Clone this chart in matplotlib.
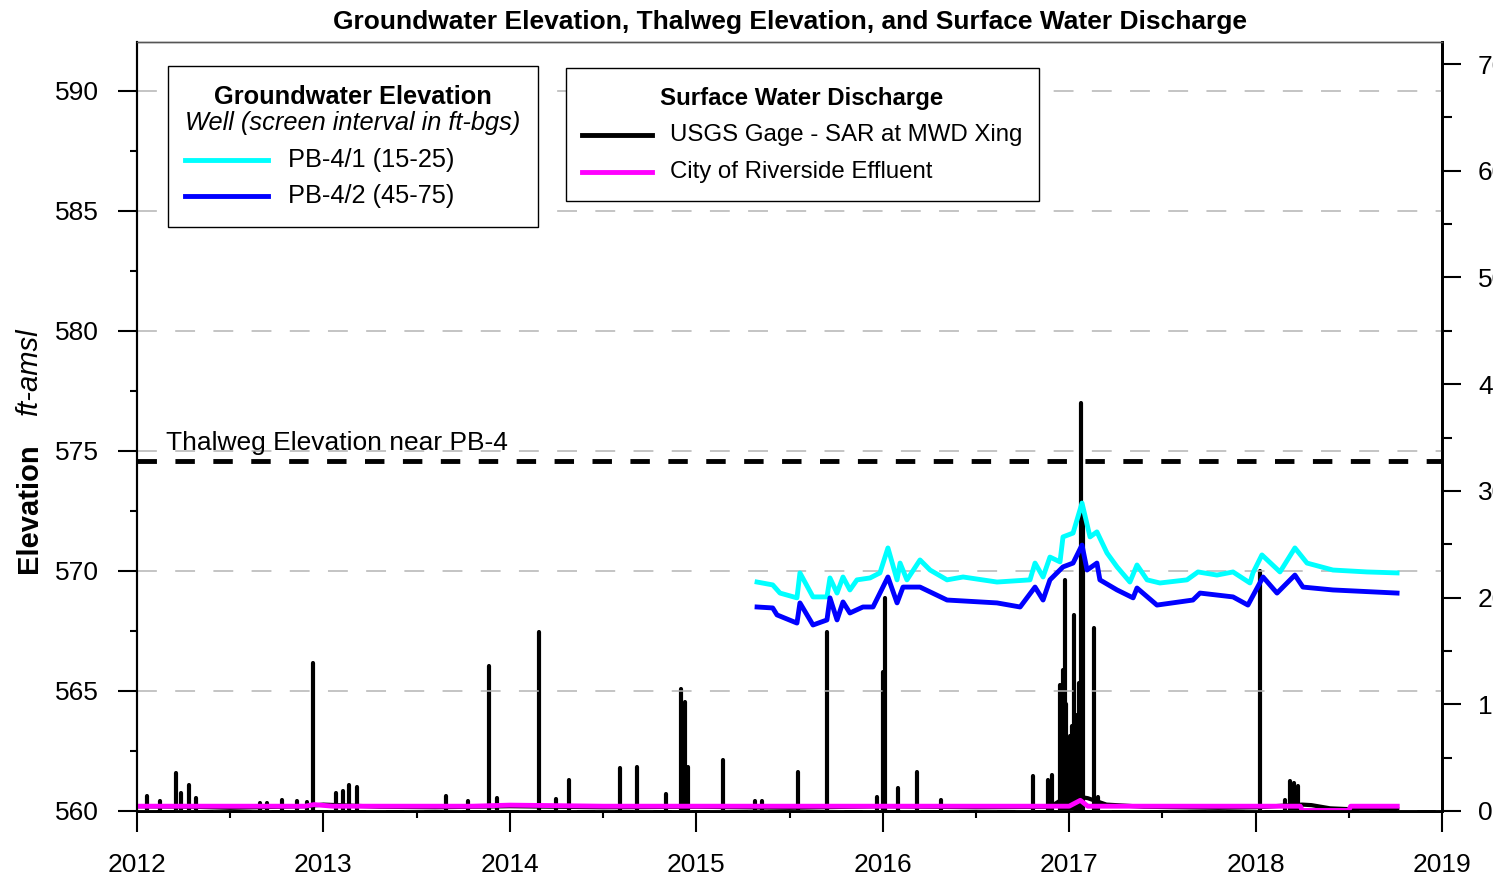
import numpy as np
import matplotlib.pyplot as plt
from matplotlib.patches import Rectangle
from matplotlib.lines import Line2D
from matplotlib.ticker import MultipleLocator, FuncFormatter

plt.rcParams['font.family'] = ['Liberation Sans', 'DejaVu Sans']

# groundwater elevation, ft-amsl (decimal year)
pb41_dates = [2015.326, 2015.41, 2015.449, 2015.54, 2015.556, 2015.626, 2015.701, 2015.717,
              2015.755, 2015.787, 2015.824, 2015.862, 2015.932, 2015.985, 2016.028, 2016.077,
              2016.093, 2016.13, 2016.20, 2016.254, 2016.345, 2016.431, 2016.613, 2016.79,
              2016.817, 2016.86, 2016.897, 2016.951, 2016.967, 2017.021, 2017.069, 2017.112,
              2017.149, 2017.203, 2017.257, 2017.326, 2017.364, 2017.418, 2017.487, 2017.632,
              2017.691, 2017.793, 2017.879, 2017.97, 2017.986, 2018.034, 2018.131, 2018.211,
              2018.276, 2018.415, 2018.598, 2018.759]
pb41_elev = [569.54, 569.42, 569.08, 568.88, 569.92, 568.92, 568.92, 569.71,
             569.08, 569.75, 569.21, 569.63, 569.71, 569.92, 570.96, 569.63,
             570.33, 569.63, 570.46, 570.04, 569.63, 569.75, 569.54, 569.63,
             570.33, 569.75, 570.58, 570.38, 571.42, 571.58, 572.83, 571.42,
             571.63, 570.75, 570.17, 569.54, 570.25, 569.63, 569.50, 569.63,
             569.96, 569.83, 569.96, 569.50, 569.92, 570.67, 569.96, 570.96,
             570.33, 570.04, 569.96, 569.92]

pb42_dates = [2015.326, 2015.41, 2015.433, 2015.54, 2015.556, 2015.626, 2015.701, 2015.717,
              2015.755, 2015.787, 2015.824, 2015.894, 2015.948, 2016.028, 2016.077, 2016.109,
              2016.20, 2016.345, 2016.613, 2016.737, 2016.817, 2016.86, 2016.897, 2016.967,
              2017.021, 2017.069, 2017.096, 2017.149, 2017.165, 2017.257, 2017.343, 2017.364,
              2017.471, 2017.664, 2017.702, 2017.879, 2017.959, 2018.040, 2018.115, 2018.211,
              2018.254, 2018.415, 2018.759]
pb42_elev = [568.50, 568.46, 568.17, 567.83, 568.67, 567.75, 567.96, 568.88,
             567.96, 568.71, 568.25, 568.50, 568.50, 569.75, 568.67, 569.33,
             569.33, 568.79, 568.67, 568.50, 569.33, 568.79, 569.63, 570.17,
             570.33, 571.08, 570.04, 570.33, 569.63, 569.21, 568.88, 569.29,
             568.58, 568.79, 569.08, 568.92, 568.58, 569.75, 569.08, 569.83,
             569.33, 569.21, 569.08]

thalweg_elev = 574.6

# USGS gage, cfs: storm peaks and base flow
peak_dates = [2012.054, 2012.123, 2012.209, 2012.236, 2012.279, 2012.316, 2012.660, 2012.697,
              2012.778, 2012.858, 2012.912, 2012.944, 2013.067, 2013.105, 2013.137, 2013.180,
              2013.657, 2013.775, 2013.888, 2013.931, 2014.156, 2014.247, 2014.317, 2014.591,
              2014.682, 2014.838, 2014.918, 2014.939, 2014.956, 2015.143, 2015.315, 2015.353,
              2015.546, 2015.701, 2015.969, 2016.001, 2016.012, 2016.082, 2016.184, 2016.313,
              2016.806, 2016.887, 2016.908, 2016.951, 2016.962, 2016.967, 2016.978, 2016.983,
              2016.994, 2017.005, 2017.010, 2017.015, 2017.026, 2017.042, 2017.053, 2017.064,
              2017.074, 2017.133, 2017.155, 2018.024, 2018.158, 2018.185, 2018.206, 2018.228]
peak_cfs = [140, 95, 360, 170, 245, 120, 75, 75,
            100, 95, 85, 1390, 170, 190, 245, 225,
            140, 95, 1360, 120, 1680, 110, 290, 400,
            410, 160, 1140, 1020, 410, 480, 90, 90,
            365, 1680, 130, 1300, 2000, 215, 365, 100,
            330, 290, 340, 1180, 900, 1320, 2165, 1000,
            680, 700, 640, 800, 1840, 900, 1200, 3820,
            2820, 1715, 130, 2250, 100, 280, 260, 230]

base_dates = [2012.0, 2012.3, 2012.5, 2012.9, 2013.0, 2013.3, 2013.6, 2014.0, 2014.5,
              2015.0, 2015.5, 2016.0, 2016.5, 2016.9, 2017.0, 2017.1, 2017.2, 2017.4,
              2017.8, 2018.0, 2018.25, 2018.3, 2018.4, 2018.6, 2018.76]
base_cfs = [45, 40, 30, 45, 60, 40, 35, 45, 35,
            40, 30, 45, 35, 40, 150, 120, 60, 40,
            30, 35, 60, 55, 25, 10, 15]

# City of Riverside effluent, cfs
eff_dates = [2012.0, 2012.9, 2012.95, 2013.05, 2013.8, 2014.0, 2014.5, 2015.0, 2016.0,
             2017.0, 2017.06, 2017.1, 2018.24, 2018.25, 2018.50, 2018.51, 2018.76]
eff_cfs = [45, 45, 60, 45, 45, 55, 45, 45, 45,
           45, 100, 45, 45, 5, 5, 45, 45]

W, H = 1493, 882
fig = plt.figure(figsize=(W / 100, H / 100), dpi=100)
ax = fig.add_axes([137 / W, 1 - 811 / H, (1442 - 137) / W, (811 - 42) / H])
ax2 = ax.twinx()
ax.set_zorder(ax2.get_zorder() + 1)
ax.patch.set_visible(False)

# discharge on the right axis
ax2.vlines(peak_dates, 0, peak_cfs, color='black', lw=3, capstyle='round', zorder=2)
ax2.plot(base_dates, base_cfs, color='black', lw=3, zorder=2)
ax2.plot(eff_dates, eff_cfs, color='#ff00ff', lw=3.5, zorder=3)
ax2.set_ylim(0, 7207)
ax2.yaxis.set_major_locator(MultipleLocator(1000))
ax2.yaxis.set_minor_locator(MultipleLocator(500))
ax2.yaxis.set_major_formatter(FuncFormatter(lambda v, p: f"{int(v)}"))
ax2.tick_params(axis='y', which='major', direction='out', length=14, width=1.5, labelsize=19, pad=12)
ax2.tick_params(axis='y', which='minor', direction='out', length=7, width=1.5)

# groundwater and thalweg on the left axis
ax.axhline(thalweg_elev, color='black', lw=3.5, linestyle=(0, (4.0, 3.8)), zorder=3)
ax.plot(pb41_dates, pb41_elev, color='#00ffff', lw=3.5, zorder=4)
ax.plot(pb42_dates, pb42_elev, color='#0000ff', lw=3.5, zorder=4)
ax.text(2012.155, thalweg_elev + 0.75, "Thalweg Elevation near PB-4", fontsize=19, va='center', zorder=5)

ax.set_xlim(2012, 2019)
ax.set_ylim(560, 592.04)
ax.xaxis.set_major_locator(MultipleLocator(1))
ax.xaxis.set_minor_locator(MultipleLocator(0.5))
ax.xaxis.set_major_formatter(FuncFormatter(lambda v, p: f"{int(round(v))}"))
ax.yaxis.set_major_locator(MultipleLocator(5))
ax.yaxis.set_minor_locator(MultipleLocator(2.5))
ax.tick_params(axis='y', which='major', direction='out', length=14, width=1.5, labelsize=19, pad=13.5)
ax.tick_params(axis='y', which='minor', direction='out', length=5, width=1.5)
ax.tick_params(axis='x', which='major', direction='out', length=15, width=1.5, labelsize=19, pad=15)
ax.tick_params(axis='x', which='minor', direction='out', length=5, width=1.5)
ax.yaxis.grid(True, color='#b4b4b4', lw=1.1, linestyle=(0, (13, 12)))
ax.set_axisbelow(True)

for a in (ax, ax2):
    a.spines['left'].set_linewidth(1.5)
    a.spines['bottom'].set_linewidth(2)
    a.spines['right'].set_linewidth(2)
    a.spines['top'].set_linewidth(1)
    a.spines['top'].set_color('#555555')

# title and y-axis label
fig.text(790 / W, 1 - 22 / H, "Groundwater Elevation, Thalweg Elevation, and Surface Water Discharge",
         ha='center', va='center', fontsize=19, fontweight='bold')
fig.text(37 / W, 1 - 508 / H, "Elevation", rotation=90, rotation_mode='anchor',
         ha='center', va='baseline', fontsize=21, fontweight='bold')
fig.text(37 / W, 1 - 372 / H, "ft-amsl", rotation=90, rotation_mode='anchor',
         ha='center', va='baseline', fontsize=21, style='italic')


def box(x0, y0, x1, y1):
    fig.add_artist(Rectangle((x0 / W, 1 - y1 / H), (x1 - x0) / W, (y1 - y0) / H,
                             transform=fig.transFigure, facecolor='white',
                             edgecolor='black', lw=1, zorder=10))


def entry(x0, x1, xt, y, color, label, size):
    fig.add_artist(Line2D([x0 / W, x1 / W], [1 - y / H, 1 - y / H], transform=fig.transFigure,
                          color=color, lw=3.5, zorder=11))
    fig.text(xt / W, 1 - y / H, label, ha='left', va='center', fontsize=size, zorder=11)


# groundwater legend
box(168, 66, 538, 227)
fig.text(353 / W, 1 - 97 / H, "Groundwater Elevation", ha='center', va='center',
         fontsize=18.3, fontweight='bold', zorder=11)
fig.text(353 / W, 1 - 123 / H, "Well (screen interval in ft-bgs)", ha='center', va='center',
         fontsize=18.3, style='italic', zorder=11)
entry(185, 268, 288, 160, '#00ffff', "PB-4/1 (15-25)", 18.3)
entry(185, 268, 288, 196, '#0000ff', "PB-4/2 (45-75)", 18.3)

# discharge legend
box(566, 68, 1039, 201)
fig.text(802 / W, 1 - 99 / H, "Surface Water Discharge", ha='center', va='center',
         fontsize=17.3, fontweight='bold', zorder=11)
entry(582, 652, 670, 135, 'black', "USGS Gage - SAR at MWD Xing", 17.3)
entry(582, 652, 670, 172, '#ff00ff', "City of Riverside Effluent", 17.3)

fig.savefig("out.png", dpi=100)
